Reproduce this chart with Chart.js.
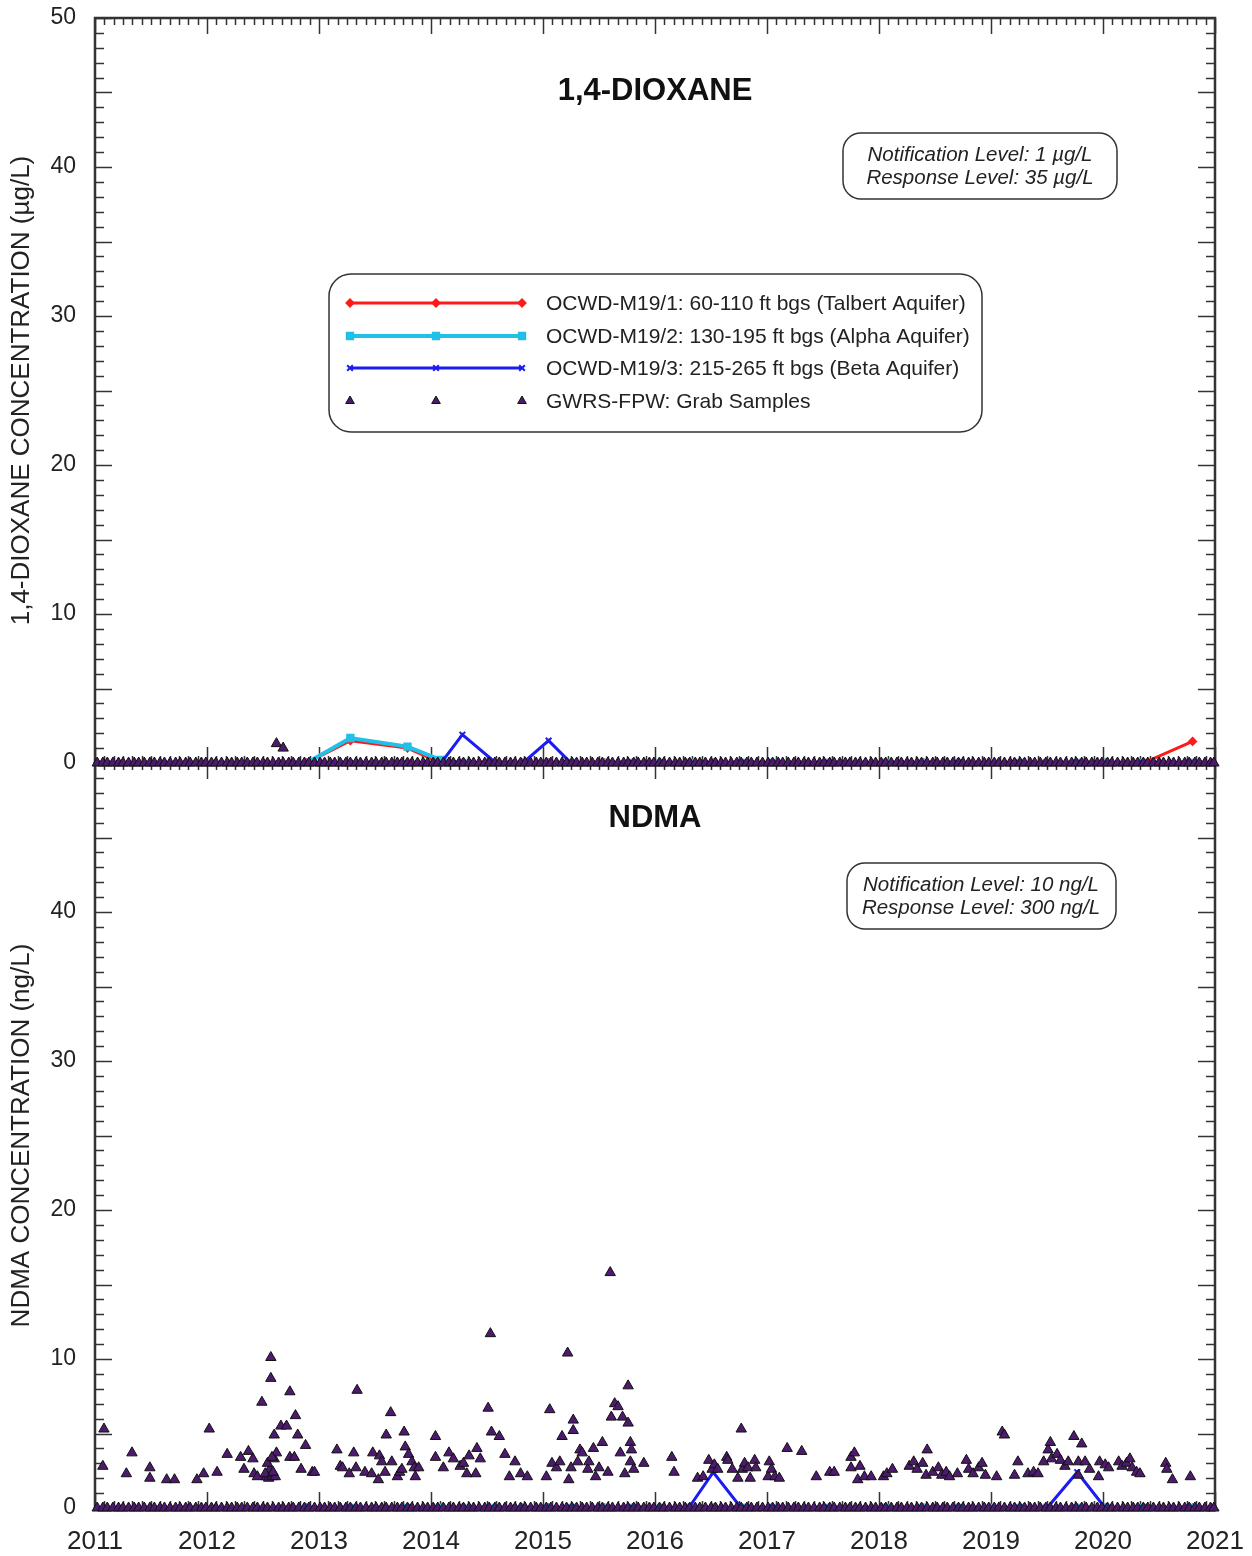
<!DOCTYPE html>
<html>
<head>
<meta charset="utf-8">
<script src="https://cdn.jsdelivr.net/npm/chart.js@4.4.1/dist/chart.umd.min.js"></script>
<style>
  html, body { margin: 0; padding: 0; background: #fff; }
  #wrap { width: 1252px; height: 1556px; position: relative; }
</style>
</head>
<body>
<div id="wrap"><canvas id="chart" width="1252" height="1556"></canvas></div>
<script>
// ---- data ----
const yearTicks = [2011, 2012, 2013, 2014, 2015, 2016, 2017, 2018, 2019, 2020, 2021];
const dioxTicks = [0, 10, 20, 30, 40, 50];
const ndmaTicks = [0, 10, 20, 30, 40];

// monitoring well sample dates (shared by the three screens)
const wellDates = [2012.89, 2013.28, 2013.79, 2014.09, 2014.28, 2014.58, 2014.82, 2015.05, 2015.25, 2015.55,
  2015.80, 2016.05, 2016.30, 2016.52, 2016.77, 2017.05, 2017.55, 2018.05, 2018.40, 2018.70,
  2019.00, 2019.25, 2019.50, 2019.77, 2020.02, 2020.36, 2020.80];

const m191Diox = [0, 1.5, 1.0, 0, 0, 0, 0, 0, 0, 0, 0, 0, 0, 0, 0, 0, 0, 0, 0, 0, 0, 0, 0, 0, 0, 0, 1.45];
const m192Diox = [0, 1.68, 1.1, 0.2, 0, 0, 0, 0, 0, 0, 0, 0, 0, 0, 0, 0, 0, 0, 0, 0, 0, 0, 0, 0, 0, 0, 0];
const m193Diox = [0, 0, 0, 0, 1.9, 0, 0, 1.5, 0, 0, 0, 0, 0, 0, 0, 0, 0, 0, 0, 0, 0, 0, 0, 0, 0, 0, 0];

const m191Ndma = [0, 0, 0, 0, 0, 0, 0, 0, 0, 0, 0, 0, 0, 0, 0, 0, 0, 0, 0, 0, 0, 0, 0, 0, 0, 0, 0];
const m192Ndma = [0, 0, 0, 0, 0, 0, 0, 0, 0, 0, 0, 0, 0, 0, 0, 0, 0, 0, 0, 0, 0, 0, 0, 0, 0, 0, 0];
const m193Ndma = [0, 0, 0, 0, 0, 0, 0, 0, 0, 0, 0, 0, 0, 2.4, 0, 0, 0, 0, 0, 0, 0, 0, 0, 2.4, 0, 0, 0];

// GWRS-FPW grab samples, non-detects (plotted at 0 on both panels)
const grabZeroDates = [
  2011.02, 2011.07, 2011.11, 2011.16, 2011.21, 2011.25, 2011.30, 2011.35, 2011.39, 2011.44, 2011.49, 2011.53,
  2011.58, 2011.62, 2011.67, 2011.72, 2011.76, 2011.81, 2011.85, 2011.90, 2011.95, 2011.99,
  2012.04, 2012.08, 2012.13, 2012.18, 2012.22, 2012.27, 2012.31, 2012.36, 2012.41, 2012.45, 2012.50, 2012.54,
  2012.59, 2012.64, 2012.68, 2012.73, 2012.77, 2012.82, 2012.87, 2012.91, 2012.96,
  2013.01, 2013.05, 2013.10, 2013.14, 2013.19, 2013.24, 2013.28, 2013.33, 2013.37, 2013.42, 2013.47, 2013.51,
  2013.56, 2013.60, 2013.65, 2013.70, 2013.74, 2013.79, 2013.83, 2013.88, 2013.93, 2013.97,
  2014.02, 2014.06, 2014.11, 2014.16, 2014.20, 2014.25, 2014.29, 2014.34, 2014.38, 2014.43, 2014.48, 2014.52,
  2014.57, 2014.61, 2014.66, 2014.71, 2014.75, 2014.80, 2014.84, 2014.89, 2014.94, 2014.98,
  2015.03, 2015.07, 2015.12, 2015.17, 2015.21, 2015.26, 2015.30, 2015.35, 2015.39, 2015.44, 2015.49, 2015.53,
  2015.58, 2015.62, 2015.67, 2015.72, 2015.76, 2015.81, 2015.85, 2015.90, 2015.95, 2015.99,
  2016.04, 2016.08, 2016.13, 2016.18, 2016.22, 2016.27, 2016.31, 2016.36, 2016.40, 2016.45, 2016.50, 2016.54,
  2016.59, 2016.63, 2016.68, 2016.73, 2016.77, 2016.82, 2016.86, 2016.91, 2016.96,
  2017.01, 2017.05, 2017.10, 2017.14, 2017.19, 2017.24, 2017.28, 2017.33, 2017.37, 2017.42, 2017.47, 2017.51,
  2017.56, 2017.60, 2017.65, 2017.70, 2017.74, 2017.79, 2017.83, 2017.88, 2017.93, 2017.97,
  2018.02, 2018.06, 2018.11, 2018.16, 2018.20, 2018.25, 2018.29, 2018.34, 2018.38, 2018.43, 2018.48, 2018.52,
  2018.57, 2018.61, 2018.66, 2018.71, 2018.75, 2018.80, 2018.84, 2018.89, 2018.94, 2018.98,
  2019.03, 2019.07, 2019.12, 2019.17, 2019.21, 2019.26, 2019.30, 2019.35, 2019.39, 2019.44, 2019.49, 2019.53,
  2019.58, 2019.62, 2019.67, 2019.72, 2019.76, 2019.81, 2019.85, 2019.90, 2019.95, 2019.99,
  2020.04, 2020.08, 2020.13, 2020.18, 2020.22, 2020.27, 2020.31, 2020.36, 2020.40, 2020.45, 2020.50, 2020.54,
  2020.59, 2020.63, 2020.68, 2020.73, 2020.77, 2020.82, 2020.86, 2020.91, 2020.96, 2020.99
];

// grab sample detections
const dioxGrabDates = [2012.62, 2012.68];
const dioxGrabValues = [1.3, 1.0];

const ndmaGrabDates = [
  2011.08, 2011.07, 2011.28, 2011.33, 2011.49, 2011.49, 2011.64, 2011.71, 2011.91, 2011.97,
  2012.02, 2012.09, 2012.18, 2012.30, 2012.33, 2012.37, 2012.41, 2012.42, 2012.45, 2012.49,
  2012.57, 2012.57, 2012.60, 2012.53, 2012.55, 2012.58, 2012.61, 2012.56, 2012.54, 2012.60,
  2012.62, 2012.58, 2012.52, 2012.59, 2012.66, 2012.71, 2012.74, 2012.74, 2012.78, 2012.79,
  2012.81, 2012.84, 2012.88, 2012.94, 2012.96, 2013.16, 2013.19, 2013.21, 2013.27, 2013.31,
  2013.33, 2013.34, 2013.41, 2013.47, 2013.48, 2013.53, 2013.54, 2013.56, 2013.59, 2013.60,
  2013.64, 2013.65, 2013.70, 2013.72, 2013.74, 2013.76, 2013.77, 2013.80, 2013.83, 2013.85,
  2013.86, 2013.89, 2014.04, 2014.04, 2014.11, 2014.16, 2014.20, 2014.26, 2014.29, 2014.32,
  2014.34, 2014.40, 2014.41, 2014.44, 2014.51, 2014.53, 2014.54, 2014.61, 2014.66, 2014.70,
  2014.75, 2014.80, 2014.86, 2015.03, 2015.06, 2015.08, 2015.12, 2015.15, 2015.17, 2015.22,
  2015.23, 2015.25, 2015.27, 2015.27, 2015.31, 2015.33, 2015.35, 2015.40, 2015.41, 2015.45,
  2015.47, 2015.50, 2015.53, 2015.58, 2015.60, 2015.61, 2015.64, 2015.67, 2015.69, 2015.71,
  2015.73, 2015.76, 2015.76, 2015.78, 2015.79, 2015.78, 2015.81, 2015.90, 2016.15, 2016.17,
  2016.38, 2016.43, 2016.48, 2016.51, 2016.53, 2016.56, 2016.64, 2016.65, 2016.69, 2016.74,
  2016.77, 2016.78, 2016.80, 2016.83, 2016.85, 2016.89, 2016.90, 2017.01, 2017.02, 2017.04,
  2017.07, 2017.11, 2017.18, 2017.31, 2017.44, 2017.56, 2017.60, 2017.75, 2017.78, 2017.75,
  2017.81, 2017.83, 2017.87, 2017.93, 2018.04, 2018.07, 2018.12, 2018.27, 2018.31, 2018.34,
  2018.39, 2018.43, 2018.42, 2018.48, 2018.53, 2018.56, 2018.60, 2018.63, 2018.70, 2018.78,
  2018.80, 2018.84, 2018.89, 2018.92, 2018.95, 2019.05, 2019.10, 2019.12, 2019.21, 2019.24,
  2019.33, 2019.38, 2019.42, 2019.47, 2019.51, 2019.53, 2019.54, 2019.59, 2019.62, 2019.66,
  2019.69, 2019.74, 2019.78, 2019.81, 2019.78, 2019.84, 2019.88, 2019.96, 2019.97, 2020.02,
  2020.05, 2020.14, 2020.17, 2020.21, 2020.24, 2020.26, 2020.30, 2020.33, 2020.56, 2020.57,
  2020.62, 2020.78
];
const ndmaGrabValues = [
  5.3, 2.8, 2.3, 3.7, 2.7, 2.0, 1.9, 1.9, 1.9, 2.3,
  5.3, 2.4, 3.6, 3.4, 2.6, 3.8, 3.3, 2.3, 2.1, 7.1,
  10.1, 8.7, 4.9, 2.1, 2.0, 2.1, 2.1, 2.6, 3.0, 3.3,
  3.7, 3.4, 2.3, 2.4, 5.5, 5.5, 7.8, 3.4, 3.4, 6.2,
  4.9, 2.6, 4.2, 2.4, 2.4, 3.9, 2.8, 2.7, 2.3, 3.7,
  2.7, 7.9, 2.4, 2.3, 3.7, 1.9, 3.5, 3.1, 2.4, 4.9,
  6.4, 3.1, 2.1, 2.4, 2.6, 5.1, 4.1, 3.6, 3.1, 2.7,
  2.1, 2.7, 4.8, 3.4, 2.7, 3.7, 3.3, 2.8, 3.0, 2.3,
  3.5, 2.3, 4.0, 3.3, 6.7, 11.7, 5.1, 4.8, 3.6, 2.1,
  3.1, 2.3, 2.1, 2.1, 6.6, 3.0, 2.7, 3.1, 4.8, 10.4,
  1.9, 2.7, 5.9, 5.2, 3.1, 3.9, 3.7, 2.6, 3.1, 4.0,
  2.1, 2.7, 4.4, 2.4, 15.8, 6.1, 7.0, 6.8, 3.7, 6.1,
  2.3, 8.2, 5.7, 4.4, 3.9, 3.1, 2.6, 3.0, 3.4, 2.4,
  2.0, 2.1, 3.2, 2.6, 2.9, 2.6, 3.4, 3.2, 2.6, 2.0,
  5.3, 2.6, 3.0, 2.7, 2.0, 3.2, 2.7, 2.1, 3.1, 2.6,
  2.1, 2.0, 4.0, 3.8, 2.1, 2.4, 2.4, 3.4, 3.7, 2.7,
  1.9, 2.8, 2.1, 2.1, 2.1, 2.3, 2.6, 2.8, 3.1, 2.6,
  3.0, 3.9, 2.2, 2.4, 2.7, 2.2, 2.4, 2.1, 2.3, 3.2,
  2.6, 2.3, 2.7, 3.0, 2.2, 2.1, 5.1, 4.9, 2.2, 3.1,
  2.3, 2.4, 2.3, 3.1, 3.9, 4.4, 3.3, 3.6, 3.2, 2.8,
  3.1, 4.8, 3.1, 4.3, 2.2, 3.1, 2.6, 2.1, 3.1, 2.9,
  2.7, 3.1, 2.8, 3.0, 3.3, 2.7, 2.4, 2.3, 3.0, 2.6,
  1.9, 2.1
];

const wellLabels = [
  'OCWD-M19/1: 60-110 ft bgs (Talbert Aquifer)',
  'OCWD-M19/2: 130-195 ft bgs (Alpha Aquifer)',
  'OCWD-M19/3: 215-265 ft bgs (Beta Aquifer)'
];
const grabLabel = 'GWRS-FPW: Grab Samples';

// ---- helpers ----
const FONT = "'Liberation Sans', Arial, Helvetica, sans-serif";
Chart.defaults.font.family = FONT;
Chart.defaults.color = '#222';

function pts(dates, values) {
  return dates.map((d, i) => ({ x: d, y: values[i] }));
}
function zeros(dates) {
  return dates.map(d => ({ x: d, y: 0 }));
}

const wellStyles = [
  { color: '#ff1a1a', width: 3, style: 'rectRot', radius: 3.5, order: 3 },
  { color: '#20c0e8', width: 4, style: 'rect', radius: 4.5, order: 2 },
  { color: '#1c1cf0', width: 3, style: 'crossRot', radius: 4, order: 1 }
];

function wellSet(i, values, axis) {
  const s = wellStyles[i];
  return {
    label: wellLabels[i],
    data: pts(wellDates, values),
    yAxisID: axis,
    showLine: true,
    borderColor: s.color,
    backgroundColor: s.color,
    borderWidth: s.width,
    pointStyle: s.style,
    pointRadius: s.radius,
    pointBorderWidth: 2,
    pointBorderColor: s.color,
    pointBackgroundColor: s.color,
    order: s.order
  };
}

function grabSet(data, axis) {
  return {
    label: grabLabel,
    data: data,
    yAxisID: axis,
    showLine: false,
    pointStyle: 'triangle',
    pointRadius: 6,
    pointBackgroundColor: '#4d1a6e',
    pointBorderColor: '#111',
    pointBorderWidth: 1,
    backgroundColor: '#4d1a6e',
    borderColor: '#111',
    clip: false,
    order: 0
  };
}

function line(ctx, x1, y1, x2, y2) {
  ctx.beginPath();
  ctx.moveTo(x1, y1);
  ctx.lineTo(x2, y2);
  ctx.stroke();
}

function roundBox(ctx, x, y, w, h, r) {
  ctx.beginPath();
  if (ctx.roundRect) {
    ctx.roundRect(x, y, w, h, r);
  } else {
    ctx.rect(x, y, w, h);
  }
  ctx.fillStyle = '#fff';
  ctx.fill();
  ctx.strokeStyle = '#333';
  ctx.lineWidth = 1.5;
  ctx.stroke();
}

// inward ticks on all four sides of both panels, plus frames
const panelFrames = {
  id: 'panelFrames',
  beforeDatasetsDraw(chart) {
    const ctx = chart.ctx;
    const x = chart.scales.x;
    const area = chart.chartArea;
    ctx.save();
    ['yTop', 'yBot'].forEach(id => {
      const y = chart.scales[id];
      const top = y.top, bottom = y.bottom;
      ctx.strokeStyle = '#333';
      ctx.lineWidth = 1.5;
      for (let m = 0; m <= 120; m++) {
        const px = Math.round(x.getPixelForValue(2011 + m / 12)) + 0.5;
        const len = m % 12 === 0 ? 16 : 7;
        line(ctx, px, top, px, top + len);
        line(ctx, px, bottom, px, bottom - len);
      }
      for (let v = 0; v <= 50; v++) {
        const py = Math.round(y.getPixelForValue(v)) + 0.5;
        const len = v % 5 === 0 ? 17 : 9;
        line(ctx, area.left, py, area.left + len, py);
        line(ctx, area.right, py, area.right - len, py);
      }
      ctx.lineWidth = 2.5;
      ctx.strokeRect(area.left, top, area.right - area.left, bottom - top);
    });
    ctx.restore();
  },
  afterDraw(chart) {
    const ctx = chart.ctx;
    const area = chart.chartArea;
    const cx = (area.left + area.right) / 2;
    ctx.save();

    // panel titles
    ctx.fillStyle = '#111';
    ctx.textAlign = 'center';
    ctx.textBaseline = 'middle';
    ctx.font = 'bold 31px ' + FONT;
    ctx.fillText('1,4-DIOXANE', cx, 91);
    ctx.fillText('NDMA', cx, 818);

    // notification / response level boxes
    ctx.font = 'italic 20.5px ' + FONT;
    roundBox(ctx, 843, 133, 274, 66, 18);
    ctx.fillStyle = '#222';
    ctx.fillText('Notification Level: 1 \u00b5g/L', 980, 155);
    ctx.fillText('Response Level: 35 \u00b5g/L', 980, 178);
    roundBox(ctx, 847, 863, 269, 66, 18);
    ctx.fillStyle = '#222';
    ctx.fillText('Notification Level: 10 ng/L', 981, 885);
    ctx.fillText('Response Level: 300 ng/L', 981, 908);

    // legend built from the top panel datasets
    roundBox(ctx, 329, 274, 653, 158, 22);
    const sets = chart.data.datasets.filter(d => d.yAxisID === 'yTop');
    const rowY = [303, 336, 368, 401];
    const markX = [350, 436, 522];
    ctx.textAlign = 'left';
    ctx.font = '21px ' + FONT;
    sets.forEach((d, i) => {
      const yy = rowY[i];
      if (d.showLine) {
        ctx.strokeStyle = d.borderColor;
        ctx.lineWidth = d.borderWidth;
        line(ctx, markX[0], yy, markX[2], yy);
      }
      markX.forEach(mx => {
        ctx.fillStyle = d.pointBackgroundColor;
        ctx.strokeStyle = d.pointBorderColor;
        ctx.lineWidth = d.pointBorderWidth;
        Chart.helpers.drawPoint(ctx, {
          pointStyle: d.pointStyle,
          radius: d.showLine ? d.pointRadius : 5,
          rotation: 0,
          borderWidth: d.pointBorderWidth
        }, mx, yy);
      });
      ctx.fillStyle = '#222';
      ctx.fillText(d.label, 546, yy + 1);
    });
    ctx.restore();
  }
};

const datasets = [
  wellSet(0, m191Diox, 'yTop'),
  wellSet(1, m192Diox, 'yTop'),
  wellSet(2, m193Diox, 'yTop'),
  grabSet(pts(dioxGrabDates, dioxGrabValues).concat(zeros(grabZeroDates)), 'yTop'),
  wellSet(0, m191Ndma, 'yBot'),
  wellSet(1, m192Ndma, 'yBot'),
  wellSet(2, m193Ndma, 'yBot'),
  grabSet(pts(ndmaGrabDates, ndmaGrabValues).concat(zeros(grabZeroDates)), 'yBot')
];

function yScale(title, tickList) {
  return {
    type: 'linear',
    position: 'left',
    stack: 'panels',
    stackWeight: 1,
    min: 0,
    max: 50,
    grid: { display: false, drawTicks: false },
    border: { display: false },
    ticks: { padding: 19, font: { size: 23 }, color: '#222', autoSkip: false },
    title: { display: true, text: title, font: { size: 26 }, color: '#222', padding: { top: 6 } },
    afterBuildTicks: s => { s.ticks = tickList.map(v => ({ value: v })); },
    afterFit: s => {
      s.width = 95;
      s.paddingTop = 0;
      s.paddingBottom = 0;
    }
  };
}

new Chart(document.getElementById('chart'), {
  type: 'scatter',
  data: { datasets: datasets },
  options: {
    responsive: false,
    animation: false,
    events: [],
    layout: { padding: { top: 18, right: 37, bottom: 0, left: 0 } },
    scales: {
      // stacked scales are laid out bottom-up, so the lower panel comes first
      yBot: yScale('NDMA CONCENTRATION (ng/L)', ndmaTicks),
      yTop: yScale('1,4-DIOXANE CONCENTRATION (\u00b5g/L)', dioxTicks),
      x: {
        type: 'linear',
        position: 'bottom',
        min: 2011,
        max: 2021,
        grid: { display: false, drawTicks: false },
        border: { display: false },
        ticks: { padding: 18, font: { size: 26 }, color: '#222', autoSkip: false, maxRotation: 0,
          callback: v => String(v) },
        afterBuildTicks: s => { s.ticks = yearTicks.map(v => ({ value: v })); },
        afterFit: s => {
          s.height = 48;
          s.paddingLeft = 0;
          s.paddingRight = 0;
        }
      }
    },
    plugins: {
      legend: { display: false },
      tooltip: { enabled: false }
    }
  },
  plugins: [panelFrames]
});
</script>
</body>
</html>
